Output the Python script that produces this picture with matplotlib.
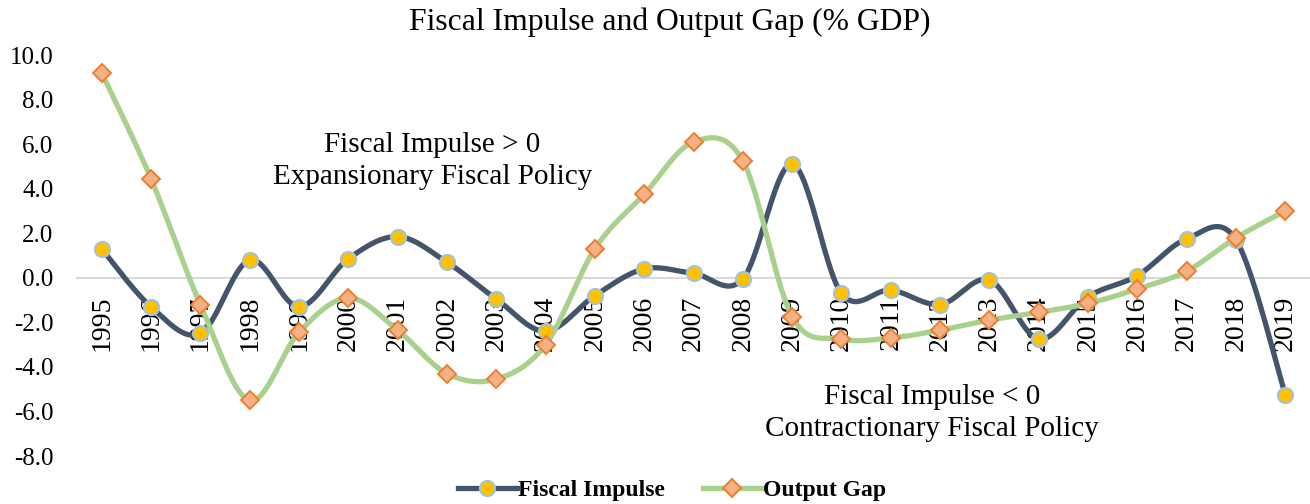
import numpy as np
import matplotlib
matplotlib.use("Agg")
import matplotlib.pyplot as plt
from matplotlib.lines import Line2D

years = [str(y) for y in range(1995, 2020)]
fiscal_impulse = [1.3, -1.3, -2.5, 0.8, -1.3, 0.85, 1.85, 0.7, -0.95, -2.4, -0.8,
                  0.4, 0.2, -0.05, 5.1, -0.7, -0.55, -1.2, -0.1, -2.75, -0.85,
                  0.1, 1.75, 1.7, -5.25]
output_gap = [9.2, 4.45, -1.2, -5.5, -2.45, -0.9, -2.35, -4.3, -4.55, -3.0, 1.3,
              3.75, 6.1, 5.25, -1.75, -2.75, -2.7, -2.35, -1.9, -1.55, -1.15,
              -0.5, 0.3, 1.8, 3.0]
yticks = [-8, -6, -4, -2, 0, 2, 4, 6, 8, 10]

plt.rcParams['font.family'] = ['Liberation Serif', 'DejaVu Serif']


def smooth(x, y, n=30):
    # Excel-like smoothed line (Catmull-Rom / cardinal Bezier)
    P = np.column_stack([x, y]).astype(float)
    P = np.vstack([P[0], P, P[-1]])
    out = []
    t = np.linspace(0, 1, n)[:, None]
    for i in range(1, len(P) - 2):
        p0, p1, p2, p3 = P[i - 1], P[i], P[i + 1], P[i + 2]
        c1 = p1 + (p2 - p0) / 6
        c2 = p2 - (p3 - p1) / 6
        seg = ((1 - t) ** 3) * p1 + 3 * ((1 - t) ** 2) * t * c1 + 3 * (1 - t) * t ** 2 * c2 + t ** 3 * p2
        out.append(seg if i == 1 else seg[1:])
    s = np.vstack(out)
    return s[:, 0], s[:, 1]


fig = plt.figure(figsize=(13.1, 5.04), dpi=100)
ax = fig.add_axes([0.0588, 0.0952, 0.9412, 0.7956])

x = np.arange(len(years))
fi_col, fi_mk, fi_edge = '#44546A', '#FFC000', '#9DC3E6'
og_col, og_mk, og_edge = '#A9D18E', '#F4B183', '#ED7D31'
LW = 3.8

# axis styling first (spine repositioning resets ticks)
for s in ['top', 'right', 'left']:
    ax.spines[s].set_visible(False)
ax.spines['bottom'].set_position(('data', 0))
ax.spines['bottom'].set_color('#D9D9D9')
ax.spines['bottom'].set_linewidth(1.5)
ax.spines['bottom'].set_zorder(1)

sx, sy = smooth(x, fiscal_impulse)
ax.plot(sx, sy, color=fi_col, lw=LW, zorder=3, solid_capstyle='round')
ax.plot(x, fiscal_impulse, ls='none', marker='o', ms=11, mfc=fi_mk, mec=fi_edge, mew=1.4, zorder=4)

sx, sy = smooth(x, output_gap)
ax.plot(sx, sy, color=og_col, lw=LW, zorder=3, solid_capstyle='round')
ax.plot(x, output_gap, ls='none', marker='D', ms=9, mfc=og_mk, mec=og_edge, mew=1.4, zorder=4)

ax.set_xlim(-0.5, len(years) - 0.5)
ax.set_ylim(-8, 10)
ax.set_yticks(yticks)
ax.set_yticklabels([f'{v:.1f}' for v in yticks], fontsize=18)
ax.set_xticks(x)
ax.set_xticklabels(years, rotation=90, fontsize=20, va='top', ha='center')
ax.tick_params(axis='both', length=0)
ax.tick_params(axis='y', pad=17)
ax.tick_params(axis='x', pad=13)

fig.text(0.5115, 0.955, 'Fiscal Impulse and Output Gap (% GDP)', ha='center', va='center', fontsize=22.8)
fig.text(0.33, 0.68, 'Fiscal Impulse > 0\nExpansionary Fiscal Policy', ha='center', va='center',
         fontsize=21, linespacing=1.3)
fig.text(0.7115, 0.18, 'Fiscal Impulse < 0\nContractionary Fiscal Policy', ha='center', va='center',
         fontsize=21, linespacing=1.3)

handles = [Line2D([], [], color=fi_col, lw=LW, marker='o', ms=11, mfc=fi_mk, mec=fi_edge, mew=1.4),
           Line2D([], [], color=og_col, lw=LW, marker='D', ms=9, mfc=og_mk, mec=og_edge, mew=1.4)]
fig.legend(handles, ['Fiscal Impulse', 'Output Gap'], loc='center', bbox_to_anchor=(0.513, 0.027),
           ncol=2, frameon=False, prop={'weight': 'bold', 'size': 17}, handlelength=2.5,
           handletextpad=0.05, columnspacing=1.6, borderpad=0)

fig.savefig('out.png', dpi=100)
